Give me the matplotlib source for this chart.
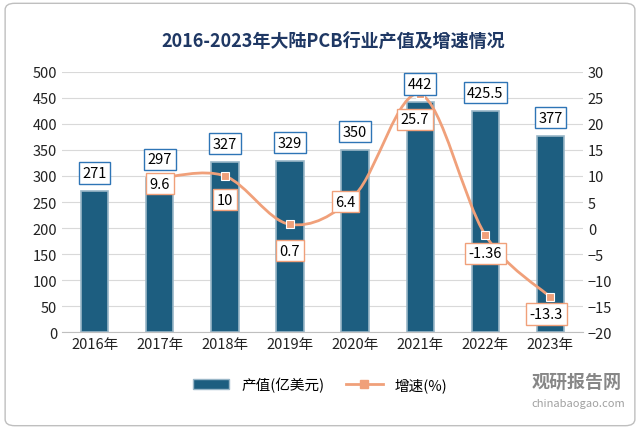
import matplotlib
matplotlib.use("Agg")
import matplotlib.pyplot as plt
from matplotlib import font_manager as fm
from matplotlib.path import Path
from matplotlib.patches import PathPatch, FancyBboxPatch, Patch
from matplotlib.lines import Line2D
import numpy as np

names = sorted({f.name for f in fm.fontManager.ttflist})
cjk = [n for n in names if "CJK" in n]
plt.rcParams['font.family'] = 'sans-serif'
plt.rcParams['font.sans-serif'] = cjk + ["DejaVu Sans"]

years = ["2016年", "2017年", "2018年", "2019年", "2020年", "2021年", "2022年", "2023年"]
output = [271, 297, 327, 329, 350, 442, 425.5, 377]
output_labels = ["271", "297", "327", "329", "350", "442", "425.5", "377"]
growth_years_idx = [1, 2, 3, 4, 5, 6, 7]
growth = [9.6, 10, 0.7, 6.4, 25.7, -1.36, -13.3]
growth_labels = ["9.6", "10", "0.7", "6.4", "25.7", "-1.36", "-13.3"]

fig = plt.figure(figsize=(6.4, 4.31), dpi=100)
fig.patches.append(FancyBboxPatch((0.008, 0.01), 0.984, 0.98, boxstyle="round,pad=0,rounding_size=0.015",
                                  transform=fig.transFigure, fc="none", ec="#bfbfbf", lw=1, zorder=-1))
ax = fig.add_axes([0.097, 0.227, 0.814, 0.604])
x = np.arange(len(years))
ax.bar(x, output, width=0.42, color="#1d5e80", edgecolor="#9ab7c8", linewidth=1.2, zorder=2)
ax.set_ylim(0, 500)
ax.set_yticks(range(0, 501, 50))
ax.set_xlim(-0.5, len(years) - 0.5)
ax.set_xticks(x)
ax.set_xticklabels(years)
ax.grid(axis="y", color="#d9d9d9", lw=0.8, zorder=0)
ax.set_axisbelow(True)
ax.tick_params(length=0, labelsize=10.5, colors="#222222")
for s in ax.spines.values():
    s.set_visible(False)
ax.spines["bottom"].set_visible(True)
ax.spines["bottom"].set_color("#bfbfbf")

ax2 = ax.twinx()
ax2.set_ylim(-20, 30)
ax2.set_yticks(range(-20, 31, 5))
ax2.tick_params(length=0, labelsize=10.5, colors="#222222")
for s in ax2.spines.values():
    s.set_visible(False)
for xi, v, t in zip(x, output, output_labels):
    ax2.annotate(t, (xi, v), xycoords=ax.transData, xytext=(0, 8), textcoords="offset points", ha="center", va="bottom",
                 fontsize=10.5, bbox=dict(boxstyle="square,pad=0.25", fc="white", ec="#2e75b6", lw=1), zorder=5)
gx = np.array(growth_years_idx, dtype=float)
gy = np.array(growth, dtype=float)
verts = [(gx[0], gy[0])]
codes = [Path.MOVETO]
n = len(gx)
for i in range(n - 1):
    p0 = (gx[max(i - 1, 0)], gy[max(i - 1, 0)])
    p1 = (gx[i], gy[i]); p2 = (gx[i + 1], gy[i + 1])
    p3 = (gx[min(i + 2, n - 1)], gy[min(i + 2, n - 1)])
    c1 = (p1[0] + (p2[0] - p0[0]) / 6, p1[1] + (p2[1] - p0[1]) / 6)
    c2 = (p2[0] - (p3[0] - p1[0]) / 6, p2[1] - (p3[1] - p1[1]) / 6)
    verts += [c1, c2, p2]
    codes += [Path.CURVE4] * 3
ax2.add_patch(PathPatch(Path(verts, codes), fc="none", ec="#f0a07a", lw=2, zorder=3))
ax2.plot(gx, gy, ls="none", marker="s", ms=6, mfc="#f0a07a", mec="white", mew=0.8, zorder=4)
offs = [(0, -4), (0, -17), (0, -19), (-7, -5), (-4, -18), (0, -13), (-3, -12)]
for xi, v, t, o in zip(gx, gy, growth_labels, offs):
    ax2.annotate(t, (xi, v), xytext=o, textcoords="offset points", ha="center", va="center",
                 fontsize=10.5, bbox=dict(boxstyle="square,pad=0.25", fc="white", ec="#f0a07a", lw=1), zorder=6)

fig.text(0.52, 0.905, "2016-2023年大陆PCB行业产值及增速情况", ha="center", va="center",
         fontsize=13, fontweight="bold", color="#1f3864")

h = [Patch(fc="#1d5e80", ec="#9ab7c8"), Line2D([], [], color="#f0a07a", lw=2, marker="s", ms=6, mfc="#f0a07a")]
fig.legend(h, ["产值(亿美元)", "增速(%)"], loc="center", bbox_to_anchor=(0.5, 0.105), ncol=2,
           frameon=False, fontsize=10.5, handlelength=2.5, columnspacing=1.5)
fig.text(0.83, 0.1, "观研报告网", fontsize=13, color="#555555", fontweight="bold", alpha=0.7)
fig.text(0.83, 0.055, "chinabaogao.com", fontsize=8, color="#777777", alpha=0.7)
fig.savefig("out.png", dpi=100)
